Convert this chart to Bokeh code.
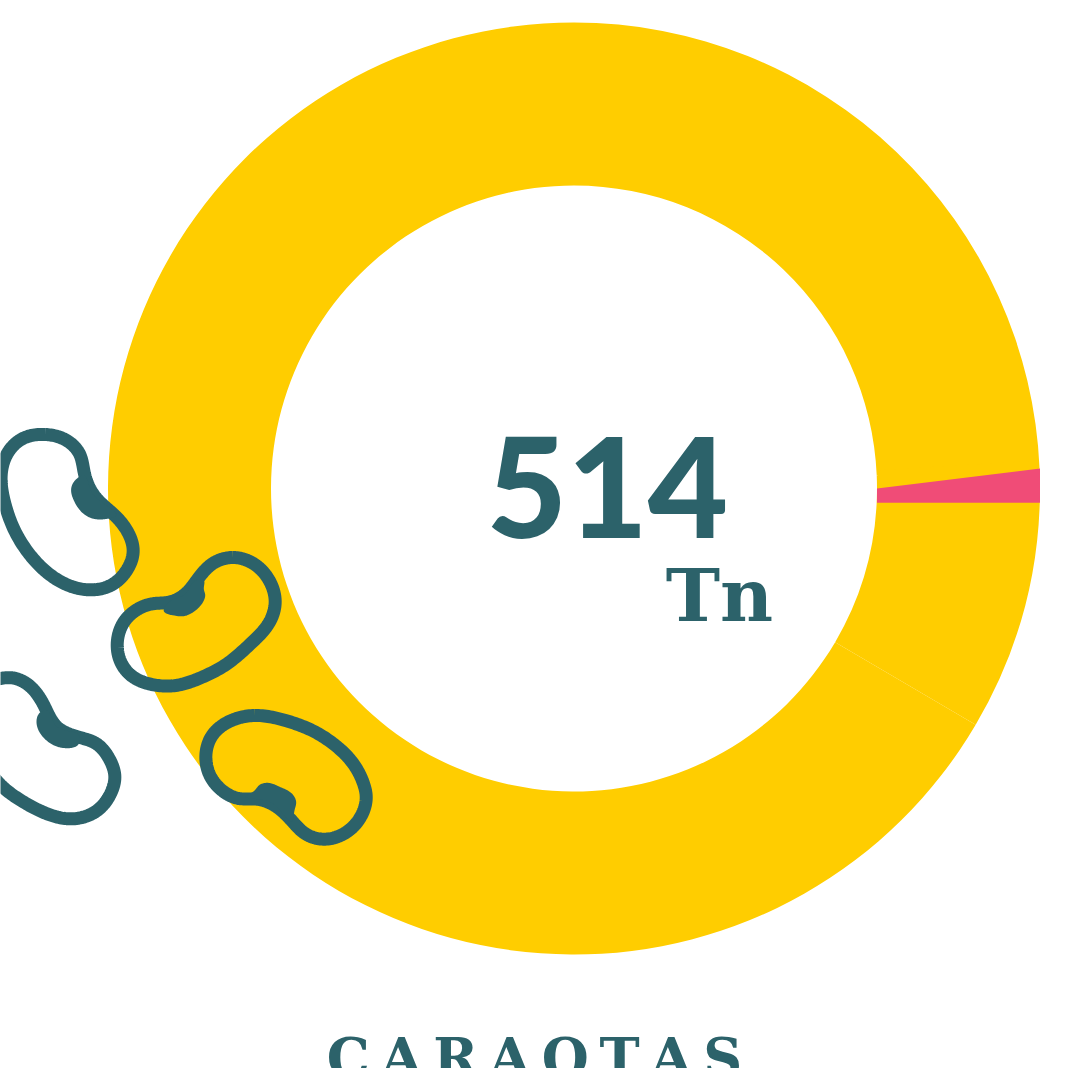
import numpy as np
from bokeh.plotting import figure
from bokeh.models import Range1d, ColumnDataSource
from bokeh.core.properties import value
from bokeh.embed import file_html
from bokeh.resources import INLINE

W, H = 1067, 1068
TEAL = "#2c626a"
YELLOW = "#ffcd00"
PINK = "#f04c77"

# Slices (tonnes), clockwise from 12 o'clock
slice_names = ["A", "B", "C", "D"]
slice_values = [125, 6, 41, 342]
total_label = "514"
unit_label = "Tn"
title_label = "C\u2009A\u2009R\u2009A\u2009O\u2009T\u2009A\u2009S"

CX, CY, R_OUT, R_IN = 573.5, 488.0, 466.0, 303.0

bean1_origin = (0, 420)
bean1_line = [(135,42),(195,58),(237,100),(252,160),(285,230),(345,287),(383,337),(398,390),(375,455),(330,495),(270,508),(205,495),(145,460),(90,405),(40,325),(12,245),(2,165),(20,100),(65,55)]
bean1_blob = [(250,165),(232,172),(212,205),(220,240),(265,290),(285,296),(320,295),(345,287),(285,230),(266,195)]
bean2_origin = (0, 420)
bean2_line = [(697,411),(760,430),(808,483),(824,547),(808,603),(750,670),(675,733),(605,770),(525,795),(450,791),(392,765),(358,718),(352,652),(370,605),(410,567),(455,550),(505,545),(555,520),(590,478),(640,427)]
bean2_blob = [(505,545),(555,520),(590,478),(610,480),(610,505),(614,522),(610,540),(585,570),(550,587),(520,585),(490,572)]
bean3_origin = (0, 660)
bean3_line = [(762,165),(855,180),(935,210),(1005,255),(1060,312),(1090,372),(1097,405),(1080,470),(1033,518),(970,536),(915,520),(875,482),(830,440),(770,416),(715,414),(665,390),(627,342),(616,290),(635,225),(682,185)]
bean3_blob = [(760,392),(775,375),(800,367),(840,380),(875,400),(887,425),(882,450),(875,482),(830,440),(770,416),(735,408)]
bean4_origin = (0, 660)
bean4_line = [(0,54),(35,52),(82,72),(115,108),(138,150),(165,195),(238,231),(285,248),(328,298),(343,348),(330,400),(290,450),(212,475),(140,460),(70,425),(0,373),(-50,310),(-100,220),(-60,80)]
bean4_blob = [(120,155),(138,150),(165,195),(238,231),(235,250),(195,263),(175,260),(120,220),(108,185)]


def spline(points, per=16):
    """Closed C2 cubic spline through the contour points, parametrised by chord length."""
    pts = np.array(points, dtype=float)
    n = len(pts)
    h = np.linalg.norm(np.roll(pts, -1, axis=0) - pts, axis=1)
    A = np.zeros((n, n))
    rhs = np.zeros((n, 2))
    for i in range(n):
        im = (i-1) % n
        ip = (i+1) % n
        A[i, im] += h[im]
        A[i, i] += 2*(h[im] + h[i])
        A[i, ip] += h[i]
        rhs[i] = 6*((pts[ip]-pts[i])/h[i] - (pts[i]-pts[im])/h[im])
    m = np.linalg.solve(A, rhs)
    out = []
    for i in range(n):
        ip = (i+1) % n
        for t in np.linspace(0, 1, per, endpoint=False):
            a, b = 1-t, t
            out.append(a*pts[i] + b*pts[ip] + h[i]**2/6*((a**3-a)*m[i] + (b**3-b)*m[ip]))
    out.append(out[0])
    return np.array(out)


def to_xy(points, origin):
    c = spline(points)
    return list(c[:, 0]/3 + origin[0]), list(H - (c[:, 1]/3 + origin[1]))


p = figure(width=W, height=H, output_backend="svg", toolbar_location=None,
           x_range=Range1d(0, W), y_range=Range1d(0, H), min_border=0,
           background_fill_color="white", border_fill_color="white", outline_line_color=None)
p.axis.visible = False
p.grid.visible = False

cy = H - CY
deg = np.array(slice_values)/sum(slice_values)*360
ends = 90 - np.cumsum(deg)
starts = ends + deg
src = ColumnDataSource(dict(name=slice_names, start=np.radians(starts), end=np.radians(ends),
                            x=[CX]*4, y=[cy]*4))
p.annular_wedge(x="x", y="y", inner_radius=R_IN, outer_radius=R_OUT, start_angle="start", end_angle="end",
                direction="clock", fill_color=YELLOW, line_color=None, source=src)
# A yellow sliver under the small slice hides the seam beside it
p.annular_wedge(x=[CX], y=[cy], inner_radius=R_IN + 1, outer_radius=R_OUT - 1,
                start_angle=[np.radians(starts[1] + 1)], end_angle=[np.radians(ends[1] - 1)],
                direction="clock", fill_color=YELLOW, line_color=None)

# The small slice has flat ends in the reference
a_top, a_bot = np.radians(starts[1]), np.radians(ends[1])
x_in, x_out = CX + R_IN, CX + R_OUT
y_top_out = cy + R_OUT*np.sin(a_top)
y_bot = cy + R_OUT*np.sin(a_bot)
p.patch([x_in, x_out, x_out, x_in], [cy, y_top_out, y_bot, y_bot], fill_color=PINK, line_color=None)

for line, blob, org in [(bean1_line, bean1_blob, bean1_origin), (bean2_line, bean2_blob, bean2_origin),
                        (bean3_line, bean3_blob, bean3_origin), (bean4_line, bean4_blob, bean4_origin)]:
    lx, ly = to_xy(line, org)
    p.line(lx, ly, line_color=TEAL, line_width=13, line_join="round")
    bx, by = to_xy(blob, org)
    p.patch(bx, by, fill_color=TEAL, line_color=None)

p.text(x=[607], y=[H-486], text=[total_label], text_font=value("Lato Black"), text_font_style="normal",
       text_font_size="139px", text_color=TEAL, text_align="center", text_baseline="alphabetic")
p.text(x=[719], y=[H-594], text=[unit_label], text_font=value("DejaVu Serif"), text_font_style="bold",
       text_font_size="73px", text_color=TEAL, text_align="center", text_baseline="alphabetic")
p.text(x=[534], y=[H-1057], text=[title_label], text_font=value("DejaVu Serif"), text_font_style="bold",
       text_font_size="54px", text_color=TEAL, text_align="center", text_baseline="alphabetic")

open("out.html", "w").write(file_html(p, INLINE))
